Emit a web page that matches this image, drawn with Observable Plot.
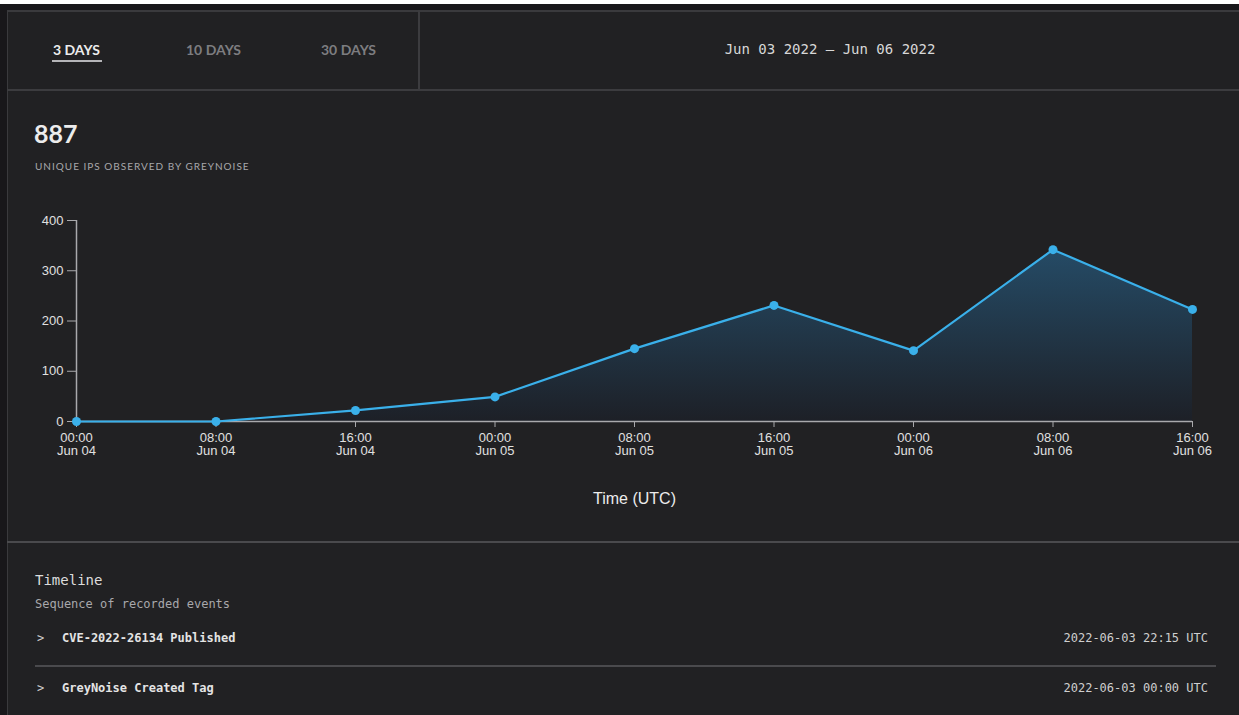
<!DOCTYPE html>
<html>
<head>
<meta charset="utf-8">
<script src="https://cdn.jsdelivr.net/npm/d3@7"></script>
<script src="https://cdn.jsdelivr.net/npm/@observablehq/plot@0.6"></script>
<style>
  html, body { margin: 0; padding: 0; background: #ffffff; }
  body { width: 1239px; height: 715px; position: relative; overflow: hidden; }
  .outer { position: absolute; left: 0; top: 4px; width: 1239px; height: 711px; background: #18171a; }
  .panel { position: absolute; left: 7px; top: 10px; width: 1232px; height: 705px; background: #212123;
           border-left: 1px solid #3a3a3d; border-top: 2px solid #3a3a3d; box-sizing: border-box; }
  .abs { position: absolute; white-space: nowrap; }
  .tab { font-family: Lato, sans-serif; font-size: 14px; font-weight: 700; top: 41px; }
  .mono { font-family: "DejaVu Sans Mono", "Liberation Mono", monospace; }
  .hline { position: absolute; height: 2px; background: #3c3c3f; }
</style>
</head>
<body>
<div class="outer"></div>
<div class="panel"></div>
<div id="header"></div>
<div id="chart" class="abs" style="left:0;top:200px;"></div>
<script>
// ---- data ----
const tabs = ["3 DAYS", "10 DAYS", "30 DAYS"];
const dateRange = "Jun 03 2022 \u2013 Jun 06 2022";
const totalIps = "887";
const totalLabel = "UNIQUE IPS OBSERVED BY GREYNOISE";
const times = ["2022-06-04T00:00Z","2022-06-04T08:00Z","2022-06-04T16:00Z","2022-06-05T00:00Z",
               "2022-06-05T08:00Z","2022-06-05T16:00Z","2022-06-06T00:00Z","2022-06-06T08:00Z","2022-06-06T16:00Z"];
const uniqueIps = [0, 0, 22, 49, 145, 231, 141, 342, 223];
const yTicks = [0, 100, 200, 300, 400];
const xLabel = "Time (UTC)";
const timelineTitle = "Timeline";
const timelineSub = "Sequence of recorded events";
const eventNames = ["CVE-2022-26134 Published", "GreyNoise Created Tag"];
const eventTimes = ["2022-06-03 22:15 UTC", "2022-06-03 00:00 UTC"];

// ---- static page text ----
const H = document.getElementById("header");
function add(html) { H.insertAdjacentHTML("beforeend", html); }
const tabX = [53, 186, 321];
tabs.forEach((t, i) => {
  add(`<div class="abs tab" style="left:${tabX[i]}px;color:${i === 0 ? '#ececec' : '#7d7d80'}">${t}</div>`);
});
add(`<div class="abs" style="left:52px;top:60px;width:50px;height:2px;background:#b5b5b8"></div>`);
add(`<div class="abs" style="left:418px;top:10px;width:2px;height:80px;background:#3c3c3f"></div>`);
add(`<div class="hline" style="left:7px;top:89px;width:1232px"></div>`);
add(`<div class="abs mono" style="left:630px;width:400px;text-align:center;top:41px;font-size:14px;color:#d8d8d8">${dateRange}</div>`);
add(`<div class="abs" style="left:34px;top:118px;font-family:Lato,sans-serif;font-size:25px;font-weight:700;color:#ececec">${totalIps}</div>`);
add(`<div class="abs" style="left:35px;top:160px;font-family:Lato,sans-serif;font-size:10px;letter-spacing:1px;color:#a8a8ab">${totalLabel}</div>`);
add(`<div class="hline" style="left:7px;top:541px;width:1232px;background:#4a4a4d"></div>`);
add(`<div class="abs mono" style="left:35px;top:572px;font-size:14px;color:#dcdcdc">${timelineTitle}</div>`);
add(`<div class="abs mono" style="left:35px;top:597px;font-size:12px;color:#a8a8ab">${timelineSub}</div>`);
const evY = [631, 681];
eventNames.forEach((n, i) => {
  add(`<div class="abs mono" style="left:37px;top:${evY[i]}px;font-size:12px;color:#cfcfcf">&gt;</div>`);
  add(`<div class="abs mono" style="left:62px;top:${evY[i]}px;font-size:12px;font-weight:700;color:#e4e4e4">${n}</div>`);
  add(`<div class="abs mono" style="right:31px;top:${evY[i]}px;font-size:12px;color:#cfcfcf">${eventTimes[i]}</div>`);
});
add(`<div class="hline" style="left:35px;top:665px;width:1181px;background:#4a4a4d"></div>`);

// ---- chart ----
const data = times.map((t, i) => ({ time: new Date(t), value: uniqueIps[i] }));
const xDomain = [data[0].time, data[data.length - 1].time];
const xTicks = data.map(d => d.time);
const fmt = d3.utcFormat("%H:%M\n%b %d");
const lineColor = "#3ab0ea";

const plot = Plot.plot({
  width: 1239,
  height: 320,
  marginLeft: 76,
  marginRight: 47,
  marginTop: 20,
  marginBottom: 99,
  style: { background: "transparent", color: "#e0e0e0", fontFamily: "'Liberation Sans', Arial, sans-serif", fontSize: "13px" },
  x: { type: "utc", domain: xDomain, ticks: xTicks, tickFormat: fmt, tickSize: 6, tickPadding: 5,
       label: xLabel, labelAnchor: "center", labelOffset: 82, labelArrow: "none" },
  y: { domain: [0, 400], ticks: yTicks, tickSize: 9, tickPadding: 4, label: null },
  marks: [
    Plot.areaY(data, { x: "time", y: "value", fill: "url(#areaGrad)" }),
    Plot.ruleY([0], { stroke: "#a9a9ac", strokeWidth: 1.5 }),
    Plot.ruleX([xDomain[0]], { stroke: "#a9a9ac", strokeWidth: 1.5 }),
    Plot.lineY(data, { x: "time", y: "value", stroke: lineColor, strokeWidth: 2.2 }),
    Plot.dot(data, { x: "time", y: "value", fill: lineColor, r: 4.5 })
  ]
});
document.getElementById("chart").appendChild(plot);

// gradient defs for the area fill
const svg = d3.select(plot);
const defs = svg.insert("defs", ":first-child");
const grad = defs.append("linearGradient").attr("id", "areaGrad")
  .attr("x1", 0).attr("y1", 0).attr("x2", 0).attr("y2", 1);
grad.append("stop").attr("offset", "0%").attr("stop-color", "#254b66");
grad.append("stop").attr("offset", "100%").attr("stop-color", "#1d2027");

// axis label styling (remove any arrow)
svg.selectAll("g[aria-label='x-axis label'] text")
  .text(xLabel).style("font-size", "16px").attr("fill", "#ececec");
svg.selectAll("[aria-label='x-axis tick'], [aria-label='y-axis tick']").attr("stroke", "#a9a9ac");
</script>
</body>
</html>
